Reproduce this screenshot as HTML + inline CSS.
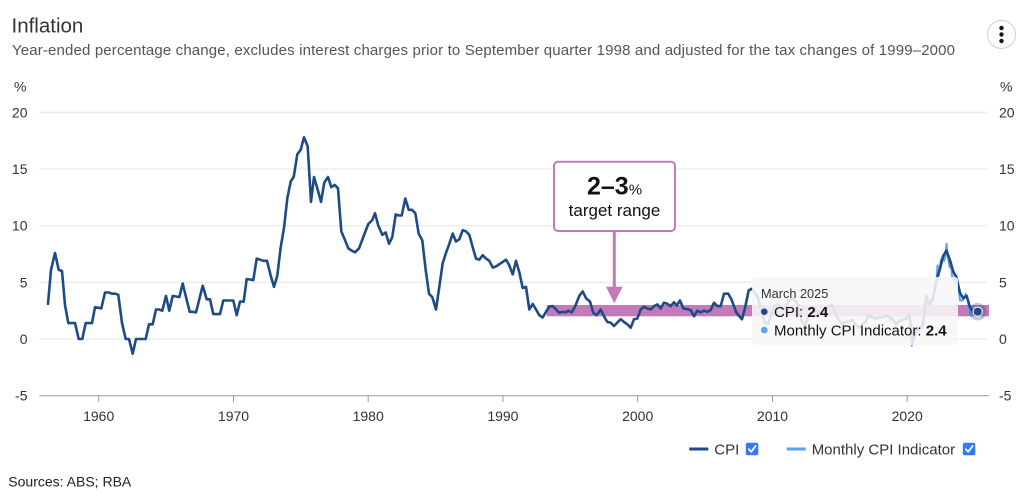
<!DOCTYPE html>
<html>
<head>
<meta charset="utf-8">
<style>
html,body{margin:0;padding:0;background:#fff;}
svg{display:block;font-family:"Liberation Sans",Arial,sans-serif;}
</style>
</head>
<body>
<svg width="1024" height="497" viewBox="0 0 1024 497" xmlns="http://www.w3.org/2000/svg">
<rect x="0" y="0" width="1024" height="497" fill="#fff"/>
<!-- title -->
<text x="11.5" y="32.5" font-size="20.5" fill="#333">Inflation</text>
<text x="12" y="55" font-size="15" fill="#555" textLength="943">Year-ended percentage change, excludes interest charges prior to September quarter 1998 and adjusted for the tax changes of 1999–2000</text>
<!-- menu -->
<circle cx="1001.5" cy="34.5" r="14" fill="#fff" stroke="#d0d0d0" stroke-width="1"/>
<circle cx="1001.5" cy="28" r="2.2" fill="#111"/>
<circle cx="1001.5" cy="34.5" r="2.2" fill="#111"/>
<circle cx="1001.5" cy="41" r="2.2" fill="#111"/>
<!-- % units -->
<text x="14" y="91.5" font-size="14" fill="#333">%</text>
<text x="1000" y="91.5" font-size="14" fill="#333">%</text>
<!-- grid -->
<g stroke="#e6e6e6" stroke-width="1">
<line x1="39.3" y1="112.3" x2="987" y2="112.3"/>
<line x1="39.3" y1="169" x2="987" y2="169"/>
<line x1="39.3" y1="225.7" x2="987" y2="225.7"/>
<line x1="39.3" y1="282.3" x2="987" y2="282.3"/>
<line x1="39.3" y1="339" x2="987" y2="339"/>
</g>
<!-- y labels -->
<g font-size="14" fill="#333" text-anchor="end">
<text x="27.5" y="117.3">20</text>
<text x="27.5" y="174">15</text>
<text x="27.5" y="230.7">10</text>
<text x="27.5" y="287.3">5</text>
<text x="27.5" y="344">0</text>
<text x="27.5" y="400.7">-5</text>
</g>
<g font-size="14" fill="#333">
<text x="999" y="117.3">20</text>
<text x="999" y="174">15</text>
<text x="999" y="230.7">10</text>
<text x="999" y="287.3">5</text>
<text x="999" y="344">0</text>
<text x="999" y="400.7">-5</text>
</g>
<!-- x axis -->
<line x1="39.3" y1="395.7" x2="989" y2="395.7" stroke="#999" stroke-width="1"/>
<g stroke="#999" stroke-width="1">
<line x1="98.7" y1="395.7" x2="98.7" y2="402"/>
<line x1="233.5" y1="395.7" x2="233.5" y2="402"/>
<line x1="368.2" y1="395.7" x2="368.2" y2="402"/>
<line x1="502.9" y1="395.7" x2="502.9" y2="402"/>
<line x1="637.7" y1="395.7" x2="637.7" y2="402"/>
<line x1="772.5" y1="395.7" x2="772.5" y2="402"/>
<line x1="907.2" y1="395.7" x2="907.2" y2="402"/>
</g>
<g font-size="14" fill="#333" text-anchor="middle">
<text x="98.7" y="421">1960</text>
<text x="233.5" y="421">1970</text>
<text x="368.2" y="421">1980</text>
<text x="502.9" y="421">1990</text>
<text x="637.7" y="421">2000</text>
<text x="772.5" y="421">2010</text>
<text x="907.2" y="421">2020</text>
</g>
<!-- target band -->
<rect x="546.7" y="305" width="442.3" height="11.3" fill="#c27bb8"/>
<!-- monthly CPI indicator -->
<polyline fill="none" stroke="#5aa3e6" stroke-width="2" stroke-linejoin="round" points="889.2,319.7 890.3,320.9 891.4,318.6 892.6,317.5 893.7,322.0 894.8,323.1 895.9,325.4 897.1,323.1 898.2,322.0 899.3,320.9 900.4,322.0 901.6,320.9 902.7,319.7 903.8,320.9 904.9,319.7 906.0,318.6 907.2,316.3 908.3,315.2 909.4,318.6 910.5,333.3 911.7,345.8 912.8,342.4 913.9,333.3 915.0,332.2 916.2,329.9 917.3,331.1 918.4,329.9 919.5,328.8 920.6,327.7 921.8,324.3 922.9,318.6 924.0,311.8 925.1,301.6 926.3,298.2 927.4,305.0 928.5,305.0 929.6,306.1 930.8,301.6 931.9,298.2 933.0,299.3 934.1,291.4 935.2,286.9 936.4,282.4 937.5,265.4 938.6,269.9 939.7,268.8 940.9,259.7 942.0,262.0 943.1,256.3 944.2,260.8 945.4,256.3 946.5,243.8 947.6,255.2 948.7,262.0 949.8,267.6 951.0,262.0 952.1,276.7 953.2,277.8 954.3,283.5 955.5,280.1 956.6,275.6 957.7,283.5 958.8,290.3 960.0,300.5 961.1,300.5 962.2,300.5 963.3,299.3 964.5,298.2 965.6,293.7 966.7,295.9 967.8,299.3 969.0,308.4 970.1,315.2 971.2,315.2 972.3,312.9 973.5,310.7 974.6,310.7 975.7,311.8 976.8,311.8"/>
<!-- CPI -->
<polyline fill="none" stroke="#1e4b87" stroke-width="2.6" stroke-linejoin="round" stroke-linecap="round" points="48,303.9 51,269.9 55,252.9 58.7,269.9 62,271.0 65,305.0 68.3,323.1 71.7,323.1 75,323.1 78.7,339 82.3,339 85.7,323.1 89,323.1 92,323.1 95,307.3 98.4,307.8 101.3,308.4 105,292.5 108.7,292.5 112,293.7 115.3,293.7 118.3,294.8 122,323.1 125.7,339 129,339 132.7,353.7 136,339 139.3,339 142.6,339 145.7,339 149,324.3 152.7,324.3 156,309.5 159,309.5 162.3,310.7 166,295.9 169.3,310.7 172.7,295.9 176,296.5 179.3,297.1 182.7,283.5 186,297.1 189.7,311.8 193,311.8 196,312.4 202.7,285.7 206.7,299.3 210,299.3 213.3,314.1 216.7,314.1 220,314.1 223.3,300.5 226.7,300.5 230,300.5 233.3,300.5 236.7,315.2 240,301.6 243.7,301.6 246.7,279.0 250,279.5 253.3,280.1 256.7,258.6 260,259.7 263.3,260.8 267,260.8 270.7,275.6 274,286.9 277.3,275.6 280.7,247.2 284,228.0 287.3,198.5 290.7,181.5 293.7,177.0 297.3,154.3 300.7,149.8 304,137.3 307.7,146.4 311,201.9 314,177.0 317.3,188.3 321,201.9 324.3,182.6 328,177.0 331.3,187.2 334.7,184.9 338,188.3 341.3,231.4 344.7,239.3 348.3,248.4 351.7,250.6 355,252.3 359,248.4 363.3,237.0 368.3,224.0 372.3,220.0 375,213.2 378.3,225.7 382.3,234.8 385.7,232.5 389,243.8 392.3,237.0 395.7,214.4 398.5,215.5 401.7,215.5 405.3,198.5 408.7,209.8 412,209.8 415.3,213.2 418.7,233.6 422.3,240.4 425.7,269.9 429,293.7 432.3,297.1 436,309.5 439.3,286.9 442.7,263.1 446,252.9 449.3,243.8 452.7,233.6 456,241.6 459.3,239.3 462.7,230.2 466,231.4 469.3,234.8 472.7,247.2 476,258.6 479.3,259.7 482.7,255.2 486,258.6 489.3,260.8 492.7,267.6 496,266.5 499.3,264.2 502.7,262.0 506,259.7 509.3,265.4 512.7,274.4 516,260.8 519.3,272.2 522.7,288.0 526,286.9 529.3,309.5 532.7,303.9 536,309.5 539.3,315.2 542.7,317.5 546,311.8 549.3,306.7 552.7,306.1 556,309.5 559.3,312.9 562.7,311.8 565.5,312.4 568.3,310.7 571.7,312.4 575,306.7 579.3,295.9 582.7,291.4 586,298.2 590,301.6 593.3,312.9 596.7,315.2 600.7,309.5 604,316.3 607.3,322.0 610.7,322.6 614,326.0 617.3,322.6 620.7,319.2 624,322.0 627.3,324.3 630.7,327.7 634,319.2 637.3,318.6 640.7,309.5 644,306.7 647.3,308.4 650.7,309.5 654,306.1 657.3,304.4 660.7,308.4 664,302.7 667.3,303.9 670.7,306.1 674,302.2 676.7,305.6 680,300.5 683.3,308.4 686.7,309.0 690.7,310.1 694,316.3 697.3,310.7 700.7,312.4 704,310.7 707.3,311.8 710.7,310.1 714,302.7 717.3,306.1 720.7,306.1 724,293.7 728.3,293.7 731.7,299.9 736,311.8 739.3,316.3 742,319.2 745.3,306.7 748.7,290.3 752,288.6 757.9,297.1 761.2,310.7 764.6,322.0 768.0,324.3 771.3,315.2 774.7,306.1 778.1,303.9 781.4,307.3 784.8,308.4 788.2,301.6 791.5,298.2 794.9,300.5 798.3,305.0 801.6,320.9 805.0,325.4 808.4,316.3 811.7,314.1 815.1,310.7 818.5,311.8 821.8,314.1 825.2,308.4 828.6,306.1 831.9,305.0 835.3,312.9 838.7,319.7 842.0,324.3 845.4,322.0 848.8,322.0 852.1,319.7 855.5,324.3 858.9,327.7 862.2,324.3 865.6,322.0 869.0,315.2 872.3,317.5 875.7,318.6 879.1,317.5 882.4,317.5 885.8,315.2 889.2,317.5 892.5,318.6 895.9,324.3 899.3,320.9 902.6,319.7 906.0,318.6 909.4,314.1 912.7,342.4 916.1,331.1 919.5,328.8 922.8,326.5 926.2,295.9 929.6,305.0 932.9,299.3 936.3,281.2 939.7,269.9 943.0,256.3 946.4,250.6 949.8,259.7 953.1,271.0 956.5,277.8 959.9,292.5 963.2,298.2 966.6,295.9 970.0,307.3 973.3,311.8 976.7,311.8"/>
<!-- annotation -->
<line x1="614.3" y1="231" x2="614.3" y2="289" stroke="#c27bb8" stroke-width="3"/>
<polygon points="606,286.7 622.7,286.7 614.3,303.3" fill="#c27bb8"/>
<rect x="554" y="161.7" width="121" height="69.3" rx="4" ry="4" fill="#fff" stroke="#c27bb8" stroke-width="2"/>
<text x="614.5" y="194.5" text-anchor="middle" fill="#111"><tspan font-size="25" font-weight="bold">2–3</tspan><tspan font-size="15">%</tspan></text>
<text x="614.5" y="216" text-anchor="middle" font-size="17" fill="#111">target range</text>
<!-- tooltip -->
<rect x="752" y="277" width="206" height="68" rx="3" ry="3" fill="#f7f7f7" fill-opacity="0.88"/>
<text x="761" y="298" font-size="12.75" fill="#333">March 2025</text>
<circle cx="764.3" cy="311.7" r="3.3" fill="#1e4b87"/>
<text x="774" y="317" font-size="15" fill="#111">CPI: <tspan font-weight="bold">2.4</tspan></text>
<circle cx="764.3" cy="330" r="3.3" fill="#5aa3e6"/>
<text x="774" y="335.5" font-size="15" fill="#111">Monthly CPI Indicator: <tspan font-weight="bold">2.4</tspan></text>
<!-- final marker -->
<circle cx="977.7" cy="311.7" r="8.7" fill="#1e4b87" fill-opacity="0.3"/>
<circle cx="977.7" cy="311.7" r="4.6" fill="#1e4b87" stroke="#fff" stroke-width="1"/>
<!-- legend -->
<line x1="689.3" y1="449" x2="708.3" y2="449" stroke="#1e4b87" stroke-width="3"/>
<text x="714.3" y="454.3" font-size="15" fill="#333">CPI</text>
<rect x="745.8" y="442.8" width="12.5" height="12.5" rx="2" ry="2" fill="#3478f6"/>
<polyline points="748.8,449.2 751.2,451.8 755.6,446" fill="none" stroke="#fff" stroke-width="1.8" stroke-linecap="round" stroke-linejoin="round"/>
<line x1="786.7" y1="449" x2="805.7" y2="449" stroke="#5aa3e6" stroke-width="3"/>
<text x="811.7" y="454.3" font-size="15" fill="#333">Monthly CPI Indicator</text>
<rect x="962.8" y="442.8" width="12.5" height="12.5" rx="2" ry="2" fill="#3478f6"/>
<polyline points="965.8,449.2 968.2,451.8 972.6,446" fill="none" stroke="#fff" stroke-width="1.8" stroke-linecap="round" stroke-linejoin="round"/>
<!-- sources -->
<text x="8.3" y="486.5" font-size="14" fill="#222">Sources: ABS; RBA</text>
</svg>
</body>
</html>
